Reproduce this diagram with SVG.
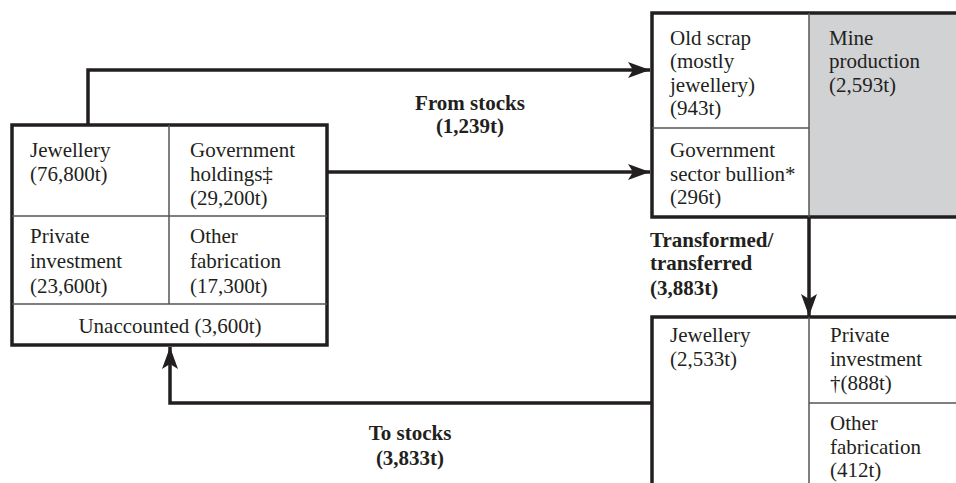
<svg xmlns="http://www.w3.org/2000/svg" width="956" height="483" viewBox="0 0 956 483">
<defs>
<style>
text{font-family:"Liberation Serif","Times New Roman",serif;font-size:21px;fill:#231f20}
.b{font-weight:bold}
.box{fill:#fff;stroke:#231f20;stroke-width:3.5}
.open{fill:none;stroke:#231f20;stroke-width:3.5}
.div{stroke:#555;stroke-width:1.5;fill:none}
.con{stroke:#231f20;stroke-width:3.5;fill:none;stroke-linejoin:miter}
</style>
<marker id="ah" markerUnits="userSpaceOnUse" markerWidth="24" markerHeight="16" refX="22" refY="8" orient="auto">
<path d="M0,0 L22,8 L0,16 L5,8 Z" fill="#231f20"/>
</marker>
</defs>
<rect width="956" height="483" fill="#fff"/>
<g id="connectors">
<path class="con" d="M88,125 V70 H650" marker-end="url(#ah)"/>
<path class="con" d="M327,172 H650" marker-end="url(#ah)"/>
<path class="con" d="M809,217 V316" marker-end="url(#ah)"/>
<path class="con" d="M652,403 H170 V347" marker-end="url(#ah)"/>
</g>
<g id="stocks">
<rect class="box" x="12" y="125" width="315" height="220"/>
<line class="div" x1="169" y1="125" x2="169" y2="304"/>
<line class="div" x1="12" y1="216" x2="327" y2="216"/>
<line class="div" x1="12" y1="304" x2="327" y2="304"/>
<text x="30" y="157">Jewellery</text>
<text x="30" y="181">(76,800t)</text>
<text x="190" y="157">Government</text>
<text x="190" y="181">holdings‡</text>
<text x="190" y="205">(29,200t)</text>
<text x="30" y="243">Private</text>
<text x="30" y="268">investment</text>
<text x="30" y="293">(23,600t)</text>
<text x="190" y="243">Other</text>
<text x="190" y="268">fabrication</text>
<text x="190" y="293">(17,300t)</text>
<text x="170" y="333" text-anchor="middle">Unaccounted (3,600t)</text>
</g>
<g id="supply">
<rect x="652" y="13" width="157" height="204" fill="#fff"/>
<rect x="809" y="13" width="152" height="204" fill="#d1d2d4"/>
<path class="open" d="M965,13 H652 V217 H965"/>
<line class="div" x1="809" y1="13" x2="809" y2="217"/>
<line class="div" x1="652" y1="128" x2="809" y2="128"/>
<text x="670" y="45">Old scrap</text>
<text x="670" y="68">(mostly</text>
<text x="670" y="92">jewellery)</text>
<text x="670" y="115">(943t)</text>
<text x="670" y="157">Government</text>
<text x="670" y="181">sector bullion*</text>
<text x="670" y="204">(296t)</text>
<text x="829" y="45">Mine</text>
<text x="829" y="68">production</text>
<text x="829" y="92">(2,593t)</text>
</g>
<g id="demand">
<path class="open" d="M965,317 H652 V490"/>
<line class="div" x1="809" y1="317" x2="809" y2="490"/>
<line class="div" x1="809" y1="403" x2="965" y2="403"/>
<text x="670" y="342">Jewellery</text>
<text x="670" y="366">(2,533t)</text>
<text x="830" y="342">Private</text>
<text x="830" y="366">investment</text>
<text x="830" y="390">†(888t)</text>
<text x="830" y="430">Other</text>
<text x="830" y="454">fabrication</text>
<text x="830" y="477">(412t)</text>
</g>
<g id="labels">
<text class="b" x="470" y="110" text-anchor="middle">From stocks</text>
<text class="b" x="470" y="133" text-anchor="middle">(1,239t)</text>
<text class="b" x="650" y="247">Transformed/</text>
<text class="b" x="650" y="270">transferred</text>
<text class="b" x="650" y="295">(3,883t)</text>
<text class="b" x="410" y="440" text-anchor="middle">To stocks</text>
<text class="b" x="410" y="465" text-anchor="middle">(3,833t)</text>
</g>
</svg>
